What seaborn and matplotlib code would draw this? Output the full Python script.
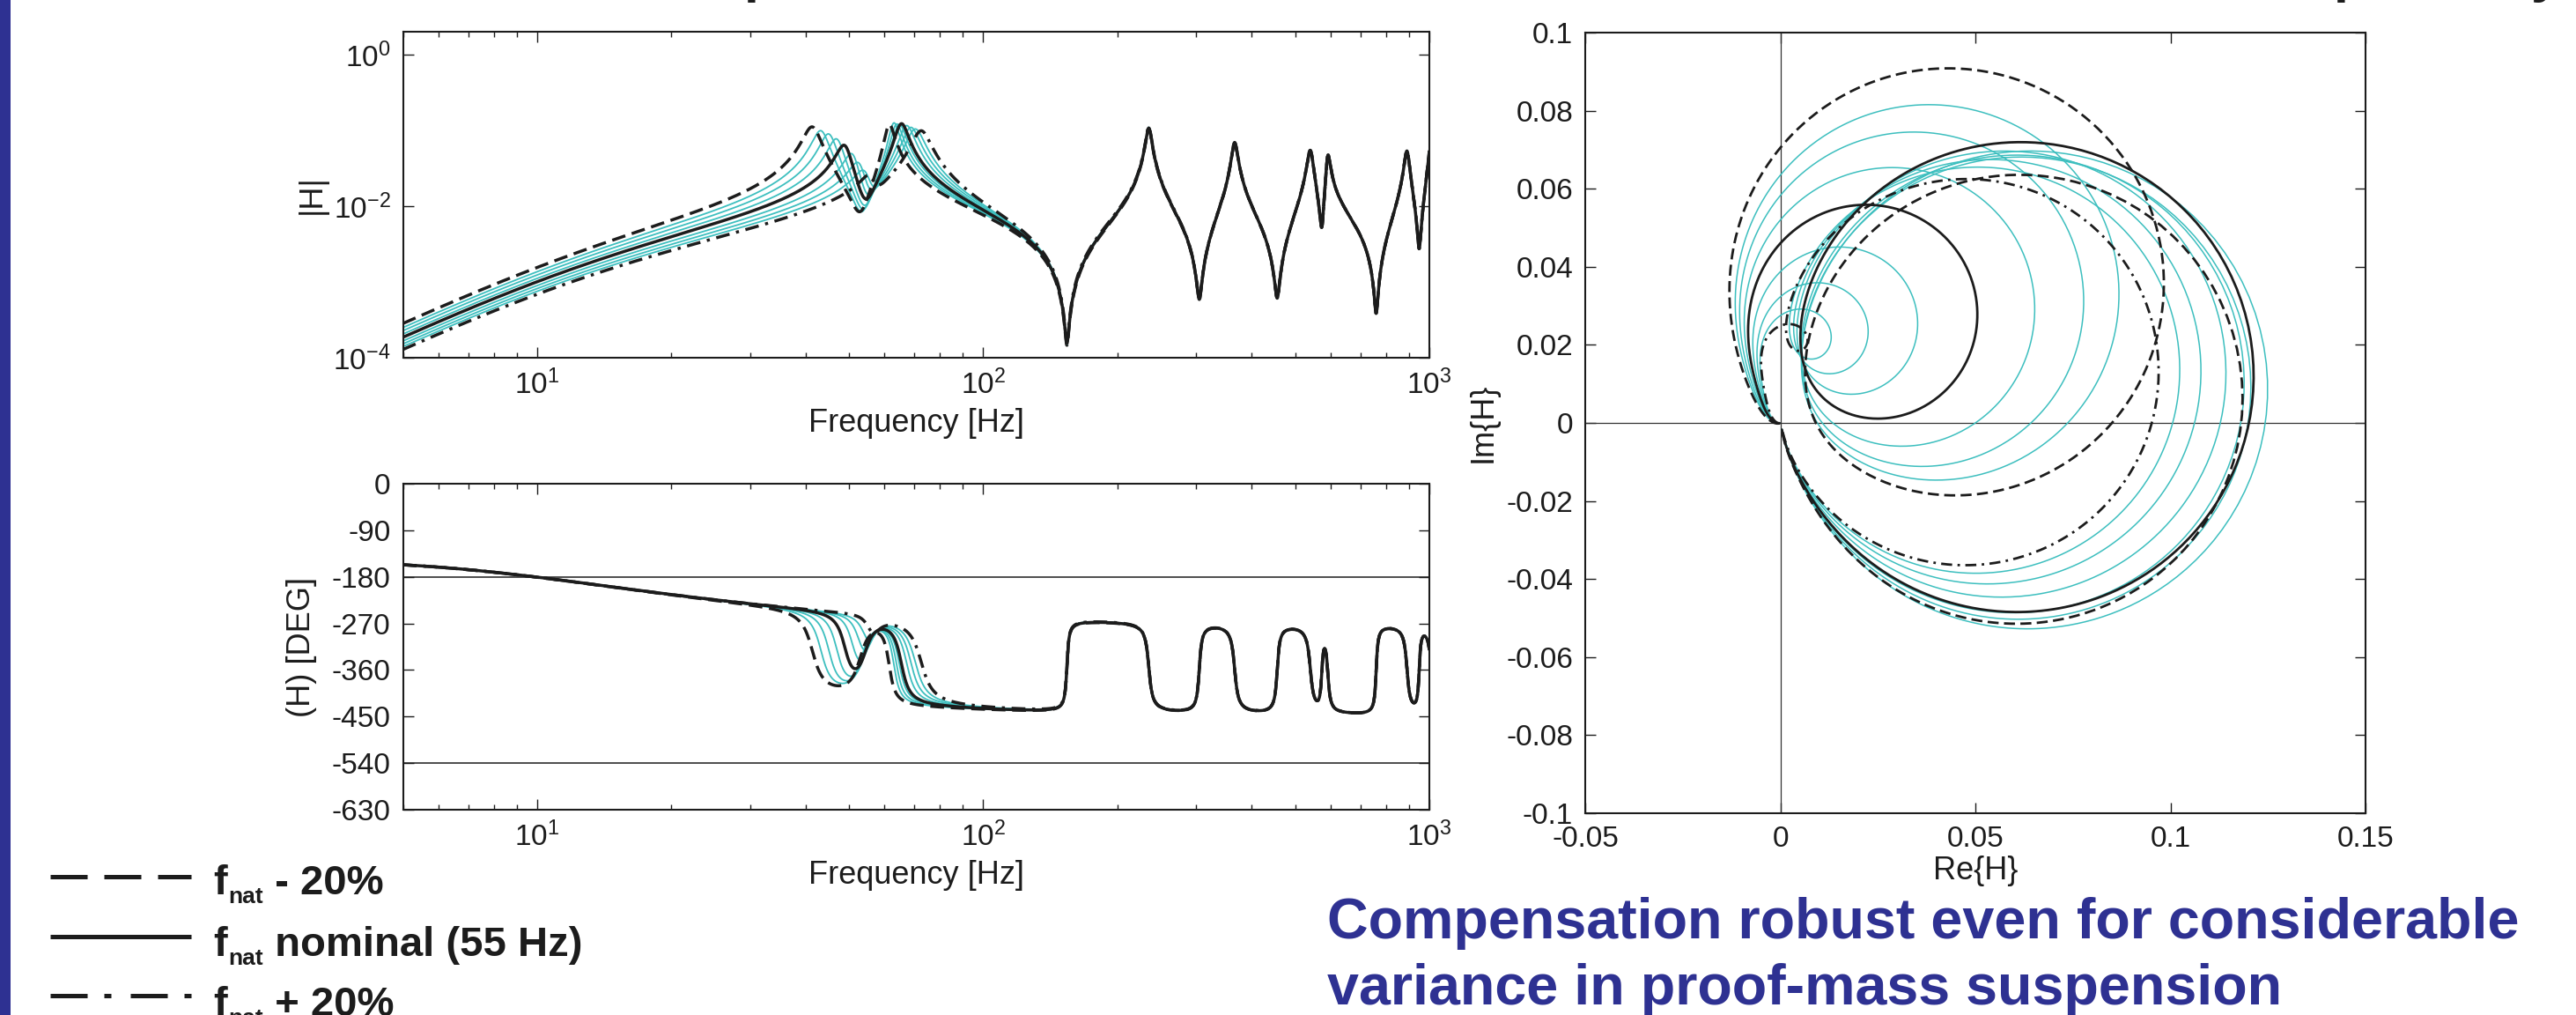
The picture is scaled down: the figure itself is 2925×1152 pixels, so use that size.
import numpy as np
import pandas as pd
import matplotlib
matplotlib.use("Agg")
import matplotlib.pyplot as plt
from matplotlib.lines import Line2D
from matplotlib.patches import Rectangle
import seaborn as sns

# ---------------------------------------------------------------------------
# Proof-mass suspension family (f_nat -20% ... +20%): modal parameters in Hz
# ---------------------------------------------------------------------------
variant_labels = ["-20%", "-15%", "-10%", "-5%", "nominal", "+5%", "+10%", "+15%", "+20%"]
pole1_hz = [41.4, 43.3, 45.1, 47.0, 49.0, 51.0, 52.8, 54.4, 55.8]
zero_hz = [53.0, 53.4, 53.8, 54.1, 54.3, 54.9, 55.6, 56.3, 57.0]
pole2_hz = [61.5, 63.0, 63.9, 64.8, 65.5, 67.3, 68.8, 70.4, 72.6]
pole1_zeta = [0.0425, 0.0405, 0.039, 0.038, 0.037, 0.0365, 0.038, 0.039, 0.0365]
zero_zeta = [0.043] * 9
pole2_zeta = [0.0237, 0.0245, 0.027, 0.0295, 0.0315, 0.0355, 0.039, 0.042, 0.0445]

# Structural modes above 100 Hz, common to every variant
hf_zero_hz = [154, 305, 456, 574, 760, 949]
hf_zero_zeta = [0.008, 0.010, 0.010, 0.008, 0.007, 0.007]
hf_pole_hz = [235, 366, 541, 592, 891, 1010]
hf_pole_zeta = [0.014, 0.014, 0.014, 0.010, 0.012, 0.012]

# Sensor front end: lead at 2 Hz, double lag at 12.2 Hz
lead_hz = 2.0
lag_hz = 12.2
gain = 0.0112

# Frequency axis of the Bode plots and upper limit of the Nyquist trace
freq_min_hz = 5.0
freq_max_hz = 1000.0
nyquist_max_hz = 140.0

# Axis ticks
mag_ticks = [1e-4, 1e-2, 1e0]
phase_ticks = [0, -90, -180, -270, -360, -450, -540, -630]
phase_guides = [-180, -540]
re_ticks = [-0.05, 0, 0.05, 0.1, 0.15]
re_labels = ["-0.05", "0", "0.05", "0.1", "0.15"]
im_ticks = [0.1, 0.08, 0.06, 0.04, 0.02, 0, -0.02, -0.04, -0.06, -0.08, -0.1]
im_labels = ["0.1", "0.08", "0.06", "0.04", "0.02", "0", "-0.02", "-0.04", "-0.06", "-0.08", "-0.1"]

legend_texts = [" - 20%", " nominal (55 Hz)", " + 20%"]
headline = ["Compensation robust even for considerable",
            "variance in proof-mass suspension"]

# ---------------------------------------------------------------------------
# Frequency response of each variant
# ---------------------------------------------------------------------------
freq = np.logspace(np.log10(freq_min_hz), np.log10(freq_max_hz), 6000)
s = 2j * np.pi * freq


def quad(f0, zeta):
    w = 2 * np.pi * f0
    return s ** 2 + 2 * zeta * w * s + w ** 2


def quad_norm(f0, zeta):
    w = 2 * np.pi * f0
    return 1 + 2 * zeta * s / w + (s / w) ** 2


front = gain * s ** 2 * (1 + s / (2 * np.pi * lead_hz)) / (1 + s / (2 * np.pi * lag_hz)) ** 2
structure = np.ones_like(s)
for fz, zz, fp, zp in zip(hf_zero_hz, hf_zero_zeta, hf_pole_hz, hf_pole_zeta):
    structure *= quad_norm(fz, zz) / quad_norm(fp, zp)

frames = []
for lab, f1, z1, fz, zz, f2, z2 in zip(variant_labels, pole1_hz, pole1_zeta, zero_hz, zero_zeta,
                                       pole2_hz, pole2_zeta):
    h = front * structure * quad(fz, zz) / (quad(f1, z1) * quad(f2, z2))
    ph = np.degrees(np.unwrap(np.angle(h)))
    ph -= 360.0 * np.ceil(ph[0] / 360.0)
    frames.append(pd.DataFrame({"freq": freq, "mag": np.abs(h), "phase": ph,
                                "re": h.real, "im": h.imag, "variant": lab}))

# ---------------------------------------------------------------------------
# Styling
# ---------------------------------------------------------------------------
ink = "#1c1c1c"
cyan = "#3dbfbf"
navy = "#2e3192"
sns.set_theme(style="ticks", rc={
    "xtick.direction": "in", "ytick.direction": "in",
    "xtick.top": True, "ytick.right": True,
    "xtick.major.size": 8.5, "ytick.major.size": 8.5,
    "xtick.minor.size": 4.5, "ytick.minor.size": 4.5,
    "xtick.major.width": 1.0, "ytick.major.width": 1.0,
    "xtick.minor.width": 1.0,
    "xtick.major.pad": 10, "ytick.major.pad": 10,
    "axes.linewidth": 1.5,
    "axes.edgecolor": ink, "axes.labelcolor": ink, "text.color": ink,
    "xtick.color": ink, "ytick.color": ink,
    "xtick.labelsize": 24, "ytick.labelsize": 24, "axes.labelsize": 26,
    "axes.unicode_minus": False,
})
plt.rcParams["font.family"] = ["Liberation Sans", "DejaVu Sans"]
plt.rcParams["mathtext.fontset"] = "custom"
plt.rcParams["mathtext.rm"] = "Liberation Sans"
plt.rcParams["mathtext.it"] = "Liberation Sans:italic"
plt.rcParams["mathtext.bf"] = "Liberation Sans:bold"
plt.rcParams["axes.unicode_minus"] = False

W, H = 2925, 1152
fig = plt.figure(figsize=(W / 100, H / 100), dpi=100)
fig.patch.set_facecolor("white")


def box(left, top, right, bottom):
    return [left / W, 1 - bottom / H, (right - left) / W, (bottom - top) / H]


ax_mag = fig.add_axes(box(457.5, 36, 1623, 406))
ax_ph = fig.add_axes(box(457.5, 549, 1623, 919))
ax_nq = fig.add_axes(box(1800, 37, 2686, 923))

dash_style = (0, (4.5, 2.2))
dashdot_style = (0, (4.5, 2.2, 1.0, 2.2))
black_order = [(0, dash_style), (8, dashdot_style), (4, "-")]
cyan_idx = [1, 2, 3, 5, 6, 7]


def draw_family(ax, xcol, ycol, data, lw_black, lw_cyan):
    for i in cyan_idx:
        sns.lineplot(data=data[i], x=xcol, y=ycol, ax=ax, color=cyan, linewidth=lw_cyan,
                     sort=False, estimator=None, legend=False)
    for i, ls in black_order:
        sns.lineplot(data=data[i], x=xcol, y=ycol, ax=ax, color=ink, linewidth=lw_black,
                     linestyle=ls, sort=False, estimator=None, legend=False)


# Magnitude
ax_mag.set_xscale("log")
ax_mag.set_yscale("log")
draw_family(ax_mag, "freq", "mag", frames, 2.5, 1.3)
ax_mag.set_xlim(freq_min_hz, freq_max_hz)
ax_mag.set_ylim(1e-4, 2.0)
ax_mag.set_yticks(mag_ticks)
ax_mag.yaxis.set_minor_locator(matplotlib.ticker.NullLocator())
ax_mag.set_xlabel("Frequency [Hz]", labelpad=6)
ax_mag.set_ylabel("|H|")
ax_mag.yaxis.set_label_coords(-0.074, 0.5)

# Phase
ax_ph.set_xscale("log")
for g in phase_guides:
    ax_ph.axhline(g, color=ink, linewidth=1.1, zorder=1)
draw_family(ax_ph, "freq", "phase", frames, 2.5, 1.3)
ax_ph.set_xlim(freq_min_hz, freq_max_hz)
ax_ph.set_ylim(-630, 0)
ax_ph.set_yticks(phase_ticks)
ax_ph.set_xlabel("Frequency [Hz]", labelpad=6)
ax_ph.set_ylabel("(H) [DEG]")
ax_ph.yaxis.set_label_coords(-0.0835, 0.5)

# Nyquist
ax_nq.axhline(0, color="#333333", linewidth=0.9, zorder=1)
ax_nq.axvline(0, color="#333333", linewidth=0.9, zorder=1)
nyq = [d[d["freq"] <= nyquist_max_hz] for d in frames]
draw_family(ax_nq, "re", "im", nyq, 2.0, 1.1)
ax_nq.set_xlim(-0.05, 0.15)
ax_nq.set_ylim(-0.1, 0.1)
ax_nq.set_xticks(re_ticks, re_labels)
ax_nq.set_yticks(im_ticks, im_labels)
ax_nq.set_xlabel("Re{H}", labelpad=2)
ax_nq.set_ylabel("Im{H}", labelpad=6)

for ax in (ax_mag, ax_ph, ax_nq):
    for sp in ax.spines.values():
        sp.set_visible(True)
        sp.set_color(ink)
    ax.tick_params(which="both", top=True, right=True, direction="in")

# Left accent bar
fig.add_artist(Rectangle((0, 0), 12 / W, 1, transform=fig.transFigure,
                         facecolor=navy, edgecolor="none"))

# Legend for the three bounding variants
leg_rows = [(995, 1015, (0, (8.4, 3.8)), 0), (1063, 1085, "-", 1), (1130, 1153, (0, (8.4, 3.8, 1.6, 4.4)), 2)]
for y_line, y_base, ls, k in leg_rows:
    fig.add_artist(Line2D([57 / W, 217 / W], [1 - y_line / H] * 2, transform=fig.transFigure,
                          color=ink, linewidth=3.6, linestyle=ls, solid_capstyle="butt",
                          dash_capstyle="butt"))
    fig.text(242 / W, 1 - y_base / H, "f", fontsize=34, fontweight="bold", va="baseline")
    fig.text(259 / W, 1 - (y_base + 10) / H, "nat", fontsize=19, fontweight="bold", va="baseline")
    fig.text(299 / W, 1 - y_base / H, legend_texts[k], fontsize=34, fontweight="bold", va="baseline")

# Headline
fig.text(1507 / W, 1 - 1065 / H, headline[0], fontsize=46.5, fontweight="bold", color=navy, va="baseline")
fig.text(1507 / W, 1 - 1140 / H, headline[1], fontsize=46.5, fontweight="bold", color=navy, va="baseline")

# Descenders of the slide title line above the figure
for x_px, ch in ((845, "p"), (2650, "p"), (2874, "y")):
    fig.text(x_px / W, 1 + 10 / H, ch, fontsize=44, fontweight="bold", va="baseline")

fig.savefig("out.png", dpi=100, facecolor="white")
